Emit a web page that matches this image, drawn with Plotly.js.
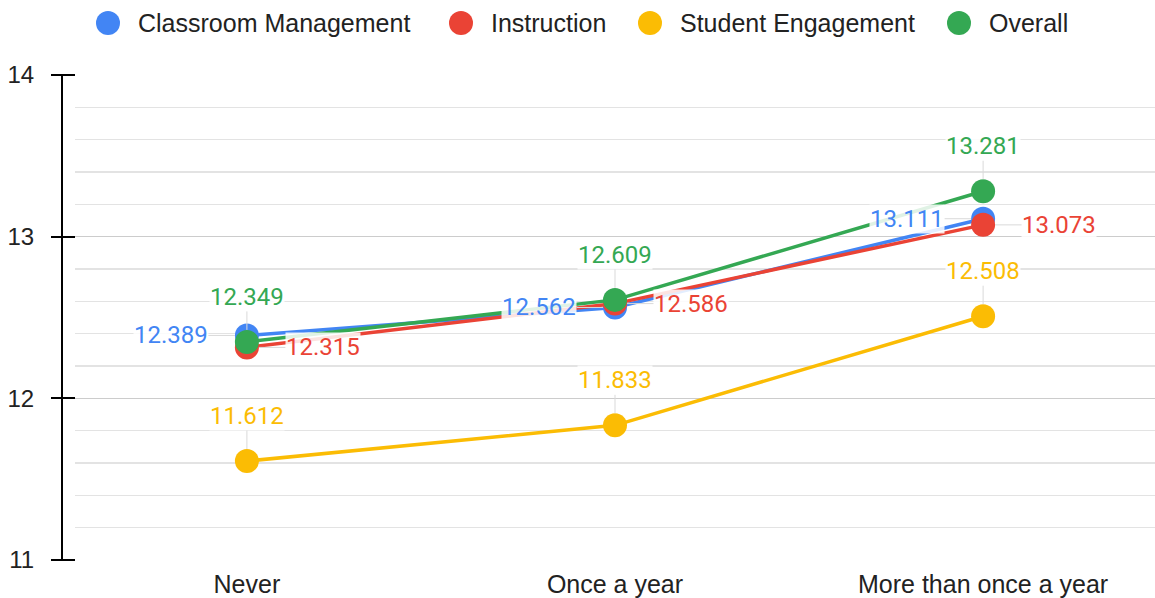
<!DOCTYPE html>
<html>
<head>
<meta charset="utf-8">
<script src="https://cdn.plot.ly/plotly-3.0.1.min.js"></script>
<style>html,body{margin:0;padding:0;background:#fff;}#chart{width:1155px;height:598px;}</style>
</head>
<body>
<div id="chart"></div>
<script>
const categories = ["Never", "Once a year", "More than once a year"];
const seriesNames = ["Classroom Management", "Instruction", "Student Engagement", "Overall"];
const classroomManagement = [12.389, 12.562, 13.111];
const instruction = [12.315, 12.586, 13.073];
const studentEngagement = [11.612, 11.833, 12.508];
const overall = [12.349, 12.609, 13.281];
const colors = ["#4285F4", "#EA4335", "#FBBC04", "#34A853"];
const labelPlacement = ["left", "right", "above", "above"];

const allSeries = [classroomManagement, instruction, studentEngagement, overall];
const xIdx = categories.map((c, i) => i);

const traces = allSeries.map((vals, s) => ({
  x: xIdx, y: vals, type: "scatter", mode: "lines+markers",
  name: seriesNames[s], showlegend: false,
  line: {color: colors[s], width: 3.5},
  marker: {color: colors[s], size: 24},
  hoverinfo: "skip"
}));

const annotations = [];
allSeries.forEach((vals, s) => {
  vals.forEach((v, i) => {
    const p = labelPlacement[s];
    let ax = 0, ay = 0;
    if (p === "left") ax = -76;
    else if (p === "right") ax = 76;
    else ay = -45;
    annotations.push({
      x: i, y: v, xref: "x", yref: "y", text: v.toFixed(3),
      showarrow: true, arrowhead: 0, arrowwidth: 1, arrowcolor: "#d9d9d9",
      standoff: 12, ax: ax, ay: ay,
      bgcolor: "rgba(255,255,255,0.85)", borderpad: 0,
      font: {family: "Roboto, sans-serif", size: 24, color: colors[s]}
    });
  });
});

// Custom legend (layout placement, in pixels converted to paper coords)
const mL = 62, mT = 75, plotW = 1093, plotH = 485;
const legendCircleX = [108, 461, 650, 959];
const legendY = 23;
const pxX = px => (px - mL) / plotW;
const pxY = py => (mT + plotH - py) / plotH;
const shapes = [];
seriesNames.forEach((name, s) => {
  shapes.push({
    type: "circle", xref: "paper", yref: "paper",
    xsizemode: "pixel", ysizemode: "pixel",
    xanchor: pxX(legendCircleX[s]), yanchor: pxY(legendY),
    x0: -12, x1: 12, y0: -12, y1: 12,
    fillcolor: colors[s], line: {width: 0}
  });
  annotations.push({
    xref: "paper", yref: "paper", x: pxX(legendCircleX[s] + 28), y: pxY(legendY),
    xanchor: "left", yanchor: "middle", showarrow: false, text: name,
    font: {family: "Liberation Sans, Arial, sans-serif", size: 25, color: "#222"}
  });
});

const leftPad = 13;
const layout = {
  width: 1155, height: 598,
  margin: {l: mL, r: 0, t: mT, b: 38},
  paper_bgcolor: "#fff", plot_bgcolor: "#fff",
  showlegend: false,
  xaxis: {domain: [leftPad / plotW, 1], range: [-0.467, 2.467],
          tickvals: xIdx, ticktext: categories, showgrid: false, zeroline: false,
          showline: false, ticks: "", ticklabelstandoff: 7,
          tickfont: {family: "Liberation Sans, Arial, sans-serif", size: 25, color: "#222"}},
  yaxis: {anchor: "free", position: leftPad / plotW, range: [11, 14], dtick: 1,
          tick0: 11, showgrid: true, gridcolor: "#cccccc", gridwidth: 1.5,
          zeroline: false, showline: false, ticks: "outside", ticklen: 24,
          tickcolor: "#000", tickwidth: 2, ticklabelstandoff: 12,
          minor: {dtick: 0.2, tick0: 11, showgrid: true, gridcolor: "#e3e3e3", gridwidth: 1.5, ticks: ""},
          tickfont: {family: "Liberation Sans, Arial, sans-serif", size: 24, color: "#222"}},
  yaxis2: {overlaying: "y", anchor: "free", position: 0, range: [11, 14],
           showline: true, linecolor: "#000", linewidth: 2, showgrid: false,
           zeroline: false, showticklabels: false, ticks: ""},
  annotations: annotations,
  shapes: shapes
};
traces.push({x: [null], y: [null], yaxis: "y2", showlegend: false, type: "scatter", mode: "markers", hoverinfo: "skip"});

Plotly.newPlot("chart", traces, layout, {displayModeBar: false, staticPlot: true});
</script>
</body>
</html>
